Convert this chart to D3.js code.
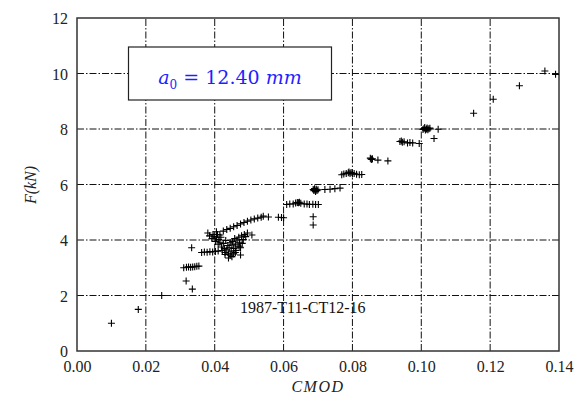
<!DOCTYPE html>
<html><head><meta charset="utf-8">
<script src="https://cdn.jsdelivr.net/npm/d3@7"></script>
<style>body{margin:0;background:#fff}svg{display:block}
.serif{font-family:"Liberation Serif","Times New Roman",serif}</style>
</head><body>
<script>
const xTicks = [0.00,0.02,0.04,0.06,0.08,0.10,0.12,0.14];
const yTicks = [0,2,4,6,8,10,12];
const specimenLabel = "1987-T11-CT12-16";
const cmod = [
 0.0100,0.0178,0.0246,0.0317,0.0335,0.0333,
 0.0310,0.0318,0.0324,0.0330,0.0336,0.0342,0.0348,0.0354,
 0.0362,0.0370,0.0378,0.0386,0.0394,0.0402,0.0410,
 0.0380,0.0395,0.0405,0.0415,0.0425,0.0435,0.0445,0.0455,0.0465,0.0475,0.0485,0.0495,0.0505,0.0515,0.0525,0.0535,0.0541,0.0556,0.0585,0.0594,0.0600,
 0.0385,0.0392,0.0398,0.0402,0.0405,0.0408,0.0410,0.0412,0.0415,0.0418,0.0420,0.0422,0.0425,0.0428,0.0430,0.0432,0.0435,0.0438,0.0440,0.0442,0.0445,0.0448,0.0450,0.0452,0.0455,0.0458,0.0460,0.0462,0.0465,0.0468,0.0470,0.0472,0.0475,0.0478,0.0480,0.0483,0.0486,0.0490,0.0495,0.0445,0.0450,0.0455,0.0440,0.0508,0.0473,0.0475,0.0460,0.0430,
 0.0609,0.0618,0.0628,0.0635,0.0640,0.0643,0.0646,0.0650,0.0660,0.0668,0.0675,0.0685,0.0693,0.0701,
 0.0686,0.0686,
 0.0686,0.0688,0.0690,0.0691,0.0693,0.0695,0.0697,0.0700,0.0720,0.0735,0.0749,0.0764,
 0.0769,0.0775,0.0782,0.0788,0.0790,0.0793,0.0796,0.0800,0.0805,0.0812,0.0820,0.0827,
 0.0852,0.0854,0.0856,0.0858,0.0874,0.0903,
 0.0938,0.0942,0.0945,0.0950,0.0960,0.0967,0.0975,0.0994,
 0.1005,0.1008,0.1010,0.1012,0.1015,0.1017,0.1019,0.1022,0.1025,0.1049,0.1037,
 0.1152,0.1209,0.1285,0.1359,0.1390
];
const force = [
 1.00,1.50,2.00,2.52,2.23,3.72,
 3.00,3.02,3.03,3.02,3.03,3.04,3.05,3.06,
 3.55,3.57,3.56,3.58,3.57,3.59,3.60,
 4.25,4.20,4.30,4.18,4.32,4.38,4.42,4.48,4.52,4.58,4.63,4.68,4.72,4.76,4.79,4.82,4.86,4.83,4.82,4.81,4.80,
 4.15,4.05,4.12,3.95,4.08,4.20,3.85,4.02,3.92,4.10,3.75,3.62,3.88,3.70,3.55,3.98,3.65,3.80,3.50,3.72,3.90,3.60,3.82,3.95,3.70,4.05,3.85,3.62,4.00,3.78,4.10,3.92,3.72,4.15,3.88,4.02,4.20,4.12,4.25,3.45,3.40,3.50,3.35,4.18,3.75,3.46,3.55,3.48,
 5.28,5.30,5.30,5.33,5.35,5.34,5.36,5.32,5.30,5.30,5.28,5.29,5.28,5.28,
 4.84,4.54,
 5.82,5.78,5.85,5.80,5.75,5.83,5.78,5.81,5.82,5.83,5.85,5.87,
 6.35,6.38,6.40,6.42,6.45,6.40,6.43,6.38,6.40,6.37,6.35,6.36,
 6.95,6.92,6.90,6.93,6.88,6.85,
 7.55,7.57,7.52,7.54,7.50,7.51,7.50,7.48,
 7.98,8.02,8.05,7.96,8.00,8.04,7.97,8.01,8.03,7.99,7.66,
 8.57,9.07,9.56,10.09,9.97
];

const W = 581, H = 401;
const m = {left:77, right:W-559, top:18, bottom:H-351};
const svg = d3.select("body").append("svg").attr("width",W).attr("height",H);
const x = d3.scaleLinear().domain([0,0.14]).range([m.left, W-m.right]);
const y = d3.scaleLinear().domain([0,12]).range([H-m.bottom, m.top]);

// grid
const dash = "7,2,1.5,2";
svg.append("g").selectAll("line").data(xTicks.slice(1,-1)).join("line")
  .attr("x1",d=>x(d)).attr("x2",d=>x(d)).attr("y1",y(0)).attr("y2",y(12))
  .attr("stroke","#111").attr("stroke-width",1).attr("stroke-dasharray",dash);
svg.append("g").selectAll("line").data(yTicks.slice(1,-1)).join("line")
  .attr("y1",d=>y(d)).attr("y2",d=>y(d)).attr("x1",x(0)).attr("x2",x(0.14))
  .attr("stroke","#111").attr("stroke-width",1).attr("stroke-dasharray",dash);

// axes
const xa = svg.append("g").attr("transform",`translate(0,${y(0)})`)
  .call(d3.axisBottom(x).tickValues(xTicks).tickFormat(d3.format(".2f")).tickSize(0).tickPadding(10));
const ya = svg.append("g").attr("transform",`translate(${x(0)},0)`)
  .call(d3.axisLeft(y).tickValues(yTicks).tickFormat(d3.format("d")).tickSize(0).tickPadding(9));
[xa,ya].forEach(a=>{a.select(".domain").remove(); a.attr("font-family",null).attr("font-size",null);
  a.selectAll("text").attr("class","serif").style("font-size","16px").attr("fill","#222");});
ya.selectAll("text").attr("dy","0.35em");

// frame
svg.append("rect").attr("x",x(0)).attr("y",y(12)).attr("width",x(0.14)-x(0)).attr("height",y(0)-y(12))
  .attr("fill","none").attr("stroke","#333").attr("stroke-width",1.5);

// points
const pts = cmod.map((c,i)=>({c, f:force[i]}));
const s = 3.5;
svg.append("g").selectAll("path").data(pts).join("path")
  .attr("d",d=>`M${x(d.c)-s},${y(d.f)}h${2*s}M${x(d.c)},${y(d.f)-s}v${2*s}`)
  .attr("stroke","#000").attr("stroke-width",1.1).attr("fill","none");

// legend box
svg.append("rect").attr("x",128.5).attr("y",47).attr("width",203).attr("height",53)
  .attr("fill","#fff").attr("stroke","#222").attr("stroke-width",1.2);
const lt = svg.append("text").attr("x",230).attr("y",84).attr("text-anchor","middle")
  .style("font-family","'DejaVu Serif',serif").style("font-size","19px").attr("fill","#1f1fff");
lt.append("tspan").style("font-style","italic").text("a");
lt.append("tspan").style("font-size","12px").attr("dy",5).text("0");
lt.append("tspan").attr("dy",-5).text(" = 12.40 ");
lt.append("tspan").style("font-style","italic").text("mm");

// specimen label
svg.append("text").attr("class","serif").attr("x",240).attr("y",313).style("font-size","16px")
  .attr("fill","#111").text(specimenLabel);

// axis labels
svg.append("text").attr("class","serif").attr("x",318).attr("y",392).attr("text-anchor","middle")
  .style("font-style","italic").style("font-size","16px").attr("letter-spacing",1.5)
  .attr("fill","#222").text("CMOD");
svg.append("text").attr("class","serif").attr("transform","translate(36,185) rotate(-90)").attr("text-anchor","middle")
  .style("font-style","italic").style("font-size","16px").attr("fill","#222").text("F(kN)");
</script>
</body></html>
